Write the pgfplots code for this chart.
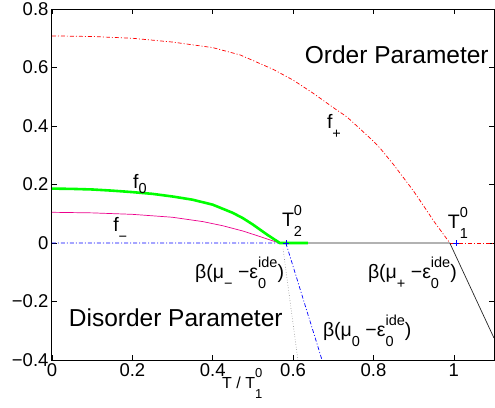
\documentclass[border=0pt]{standalone}
\usepackage{fontspec}
\setmainfont{Liberation Sans}
\usepackage{pgfplots}
\pgfplotsset{compat=1.18}

\newcommand{\lblfont}{\fontsize{19.5}{21}\selectfont}
\newcommand{\bigfont}{\fontsize{24.5}{27}\selectfont}
\newcommand{\scr}{\fontsize{14.5}{15}\selectfont}
% subscript only
\newcommand{\sub}[2][10pt]{\raisebox{-#1}{\scr #2}}
% superscript over subscript
\newcommand{\supsub}[2]{\begingroup\scr
  \setbox0\hbox{#1}\setbox2\hbox{#2}%
  \dimen0=\wd0 \ifdim\wd2>\dimen0 \dimen0=\wd2\fi
  \rlap{\raisebox{11pt}{\box0}}\rlap{\raisebox{-10pt}{\box2}}\hspace{\dimen0}\endgroup}

\begin{document}
\begin{tikzpicture}
\begin{axis}[
  scale only axis,
  width=442pt, height=351pt,
  xmin=0, xmax=1.1, ymin=-0.4, ymax=0.8,
  xtick={0,0.2,0.4,0.6,0.8,1},
  xticklabels={0,0.2,0.4,0.6,0.8,1},
  ytick={-0.4,-0.2,0,0.2,0.4,0.6,0.8},
  yticklabels={−0.4,−0.2,0,0.2,0.4,0.6,0.8},
  tick label style={font=\fontsize{18.5}{20}\selectfont},
  tick align=inside,
  major tick length=5pt,
  tick style={black, line width=0.6pt},
  axis line style={line width=1pt},
  clip mode=individual,
]
% f+ (order parameter)
\addplot[red, line width=0.7pt, dash pattern=on 4pt off 2pt on 1pt off 2pt] coordinates {
  (0,0.708) (0.1,0.706) (0.2,0.700) (0.3,0.687) (0.4,0.668) (0.468,0.643)
  (0.5,0.624) (0.55,0.594) (0.6,0.557) (0.65,0.512) (0.7,0.463) (0.734,0.431)
  (0.75,0.411) (0.8,0.348) (0.816,0.325) (0.85,0.268) (0.898,0.181)
  (0.915,0.147) (0.95,0.075) (0.99,0)
};
\addplot[red, line width=0.7pt, dash pattern=on 4pt off 2pt on 1pt off 2pt] coordinates {
  (0.99,0) (1.1,0)
};
% black line at zero and beyond T1
\addplot[black!85, line width=0.7pt] coordinates {
  (0.582,0) (0.99,0) (1.1,-0.325)
};
% blue dash-dot
\addplot[blue, line width=0.7pt, dash pattern=on 4pt off 2pt on 1pt off 2pt] coordinates {
  (0,0) (0.582,0) (0.672,-0.4)
};
% gray dotted
\addplot[gray, line width=0.6pt, dotted] coordinates {
  (0.575,-0.02) (0.612,-0.4)
};
% f-
\addplot[magenta, line width=0.7pt] coordinates {
  (0,0.105) (0.1,0.103) (0.2,0.098) (0.3,0.088) (0.376,0.073)
  (0.425,0.059) (0.475,0.041) (0.52,0.021) (0.565,0)
};
% f0
\addplot[green, line width=2.6pt] coordinates {
  (0,0.186) (0.05,0.185) (0.1,0.183) (0.15,0.179) (0.2,0.174) (0.25,0.168)
  (0.3,0.159) (0.35,0.148) (0.4,0.131) (0.45,0.103) (0.475,0.085)
  (0.5,0.063) (0.535,0.029) (0.567,0) (0.637,0)
};
% critical points
\addplot[blue, only marks, mark=+, mark size=3pt, line width=0.6pt] coordinates {
  (0.582,0) (1.005,0)
};

\node[anchor=base, font=\bigfont] at (axis cs:0.858,0.615) {Order Parameter};
\node[anchor=base, font=\bigfont] at (axis cs:0.308,-0.287) {Disorder Parameter};
\node[anchor=base west, font=\lblfont, inner sep=0pt] at (axis cs:0.2015,0.188) {f\sub[5pt]{0}};
\node[anchor=base west, font=\lblfont, inner sep=0pt] at (axis cs:0.684,0.393) {f\sub{+}};
\node[anchor=base west, font=\lblfont, inner sep=0pt] at (axis cs:0.152,0.038) {f\sub{−}};
\node[anchor=base west, font=\lblfont, inner sep=0pt] at (axis cs:0.572,0.055) {T\supsub{0}{2}};
\node[anchor=base west, font=\lblfont, inner sep=0pt] at (axis cs:0.985,0.051) {T\supsub{0}{1}};
\node[anchor=base west, font=\lblfont, inner sep=0pt] at (axis cs:0.356,-0.123) {β(μ\sub{−} −ε\supsub{ide}{0})};
\node[anchor=base west, font=\lblfont, inner sep=0pt] at (axis cs:0.786,-0.123) {β(μ\sub{+} −ε\supsub{ide}{0})};
\node[anchor=base west, font=\lblfont, inner sep=0pt] at (axis cs:0.674,-0.318) {β(μ\sub{0} −ε\supsub{ide}{0})};
\node[anchor=base west, font=\fontsize{16}{18}\selectfont, inner sep=0pt] at (axis cs:0.423,-0.496)
  {T / T{\renewcommand{\scr}{\fontsize{13}{14}\selectfont}\supsub{0}{1}}};
\end{axis}
\pgfresetboundingbox
\path[use as bounding box] (-52pt,-47pt) rectangle (443pt,360pt);
\end{tikzpicture}
\end{document}
